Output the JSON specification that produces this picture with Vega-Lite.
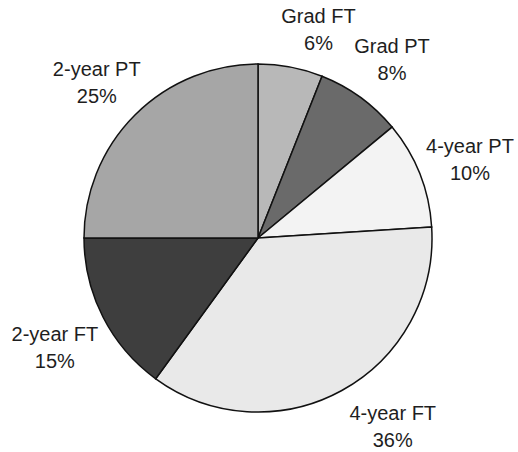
{
  "$schema": "https://vega.github.io/schema/vega-lite/v6.json",
  "width": 516,
  "height": 428,
  "autosize": "none",
  "padding": {"left": 0, "right": 2, "top": 24, "bottom": 0},
  "background": "white",
  "config": {"view": {"stroke": null}},
  "data": {
    "values": [
      {"category": "Grad FT", "value": 6},
      {"category": "Grad PT", "value": 8},
      {"category": "4-year PT", "value": 10},
      {"category": "4-year FT", "value": 36},
      {"category": "2-year FT", "value": 15},
      {"category": "2-year PT", "value": 25}
    ]
  },
  "transform": [
    {"window": [{"op": "row_number", "as": "rank"}]},
    {"stack": "value", "groupby": [], "sort": [{"field": "rank", "order": "ascending"}], "as": ["t0", "t1"]},
    {"calculate": "(datum.t0 + datum.t1) / 2", "as": "mid"},
    {"calculate": "datum.category + '\\n' + datum.value + '%'", "as": "label"}
  ],
  "layer": [
    {
      "mark": {"type": "arc", "radius": 174, "stroke": "#111111", "strokeWidth": 1.5},
      "encoding": {
        "theta": {"field": "t0", "type": "quantitative", "scale": {"domain": [0, 100]}},
        "theta2": {"field": "t1"},
        "color": {
          "field": "category",
          "type": "nominal",
          "legend": null,
          "scale": {
            "domain": ["Grad FT", "Grad PT", "4-year PT", "4-year FT", "2-year FT", "2-year PT"],
            "range": ["#b8b8b8", "#6a6a6a", "#f3f3f3", "#e9e9e9", "#3e3e3e", "#a6a6a6"]
          }
        }
      }
    },
    {
      "transform": [{"filter": "datum.category != 'Grad FT' && datum.category != '4-year FT'"}],
      "mark": {"type": "text", "radius": 228, "dy": -7, "font": "Liberation Sans", "fontSize": 20, "lineBreak": "\n", "lineHeight": 27, "align": "center", "baseline": "middle", "fill": "#1e1e1e"},
      "encoding": {
        "theta": {"field": "mid", "type": "quantitative"},
        "text": {"field": "label"}
      }
    },
    {
      "transform": [{"filter": "datum.category == 'Grad FT'"}],
      "mark": {"type": "text", "radius": 216, "dx": 20, "dy": -9, "font": "Liberation Sans", "fontSize": 20, "lineBreak": "\n", "lineHeight": 27, "align": "center", "baseline": "middle", "fill": "#1e1e1e"},
      "encoding": {
        "theta": {"field": "mid", "type": "quantitative"},
        "text": {"field": "label"}
      }
    },
    {
      "transform": [{"filter": "datum.category == '4-year FT'"}],
      "mark": {"type": "text", "radius": 234, "dx": 22, "dy": -29, "font": "Liberation Sans", "fontSize": 20, "lineBreak": "\n", "lineHeight": 27, "align": "center", "baseline": "middle", "fill": "#1e1e1e"},
      "encoding": {
        "theta": {"field": "mid", "type": "quantitative"},
        "text": {"field": "label"}
      }
    }
  ]
}
